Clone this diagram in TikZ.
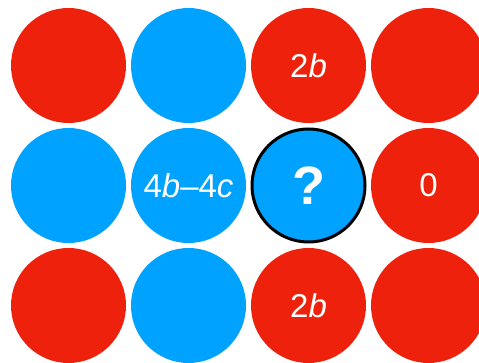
\documentclass[tikz,border=0pt]{standalone}
\usepackage{fontspec}
\setmainfont{Liberation Sans}
\definecolor{dotred}{HTML}{EE220C}
\definecolor{dotblue}{HTML}{00A2FF}
\begin{document}
\begin{tikzpicture}[x=1pt,y=-1pt,
  dot/.style={circle,minimum size=115pt,inner sep=0pt,text=white,
    font=\fontsize{33}{38}\selectfont},
  reddot/.style={dot,fill=dotred},
  bluedot/.style={dot,fill=dotblue},
  qdot/.style={dot,fill=dotblue,draw=black,line width=3pt,minimum size=113pt,
    font=\fontsize{54}{60}\selectfont\bfseries}]
\clip (0,0) rectangle (479,363);
\useasboundingbox (0,0) rectangle (479,363);
% row 1
\node[reddot]  (r1c1) at (68.5,65.5) {};
\node[bluedot] (r1c2) at (188.5,65.5) {};
\node[reddot]  (r1c3) at (308.5,65.5) {2\textit{b}};
\node[reddot]  (r1c4) at (428.5,65.5) {};
% row 2
\node[bluedot] (r2c1) at (68.5,185.5) {};
\node[bluedot] (r2c2) at (188.5,185.5) {4\textit{b}--4\textit{c}};
\node[qdot]    (r2c3) at (308.5,185.5) {?};
\node[reddot]  (r2c4) at (428.5,185.5) {0};
% row 3
\node[reddot]  (r3c1) at (68.5,305.5) {};
\node[bluedot] (r3c2) at (188.5,305.5) {};
\node[reddot]  (r3c3) at (308.5,305.5) {2\textit{b}};
\node[reddot]  (r3c4) at (428.5,305.5) {};
\end{tikzpicture}
\end{document}
